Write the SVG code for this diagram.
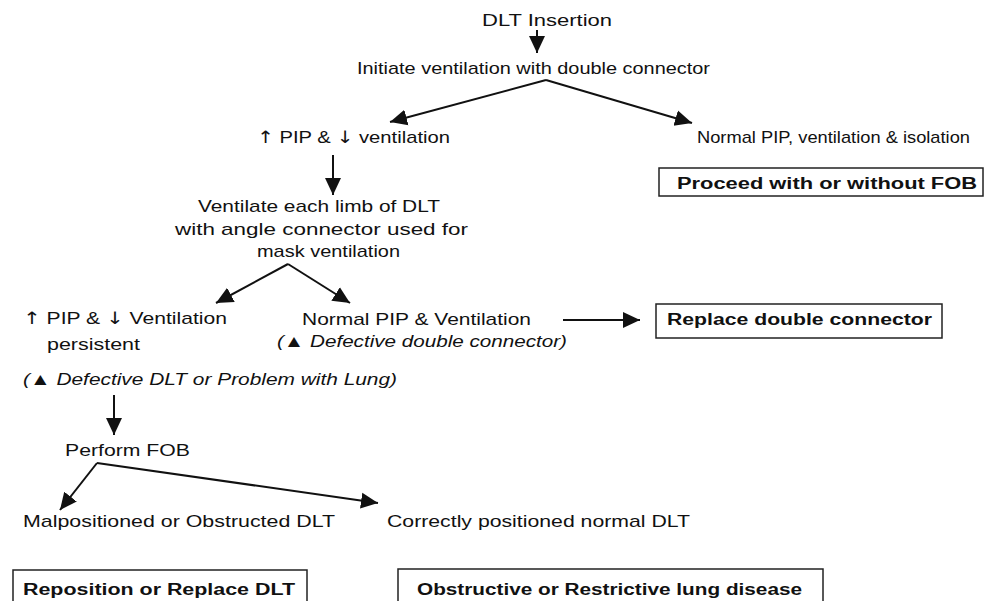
<svg xmlns="http://www.w3.org/2000/svg" width="989" height="601" viewBox="0 0 989 601">
<style>
.t{font-family:"Liberation Sans",Arial,sans-serif;font-size:17px;fill:#111}
.i{font-style:italic}
.ar{font-family:"DejaVu Sans",sans-serif;font-style:normal}
.b{font-family:"Liberation Sans",Arial,sans-serif;font-size:16px;font-weight:bold;fill:#111}
.box{fill:#fff;stroke:#222;stroke-width:1.5}
.c{stroke:#111;stroke-width:2;fill:none;marker-end:url(#ah)}
</style>
<defs>
<marker id="ah" markerUnits="userSpaceOnUse" markerWidth="18" markerHeight="18" refX="17" refY="9" orient="auto" viewBox="0 0 18 18">
<path d="M0,1 L17,9 L0,17 z" fill="#111"/>
</marker>
</defs>
<rect width="989" height="601" fill="#fff"/>
<g id="connectors">
<line class="c" x1="537" y1="30" x2="537" y2="53"/>
<line class="c" x1="546" y1="80" x2="390" y2="122"/>
<line class="c" x1="546" y1="80" x2="692" y2="123"/>
<line class="c" x1="333" y1="155" x2="333" y2="195"/>
<line class="c" x1="288" y1="264" x2="216" y2="303"/>
<line class="c" x1="288" y1="264" x2="350" y2="303"/>
<line class="c" x1="563" y1="320" x2="640" y2="320"/>
<line class="c" x1="114" y1="395" x2="114" y2="435"/>
<line class="c" x1="97" y1="463" x2="60" y2="510"/>
<line class="c" x1="97" y1="463" x2="378" y2="503"/>
</g>
<g id="n-dlt-insertion"><text class="t" x="482" y="26" textLength="130" lengthAdjust="spacingAndGlyphs">DLT Insertion</text></g>
<g id="n-initiate"><text class="t" x="357" y="74" textLength="353" lengthAdjust="spacingAndGlyphs">Initiate ventilation with double connector</text></g>
<g id="n-pip-up"><text class="t" x="257" y="143" textLength="193" lengthAdjust="spacingAndGlyphs"><tspan class="ar">↑</tspan> PIP &amp; <tspan class="ar">↓</tspan> ventilation</text></g>
<g id="n-normal"><text class="t" x="697" y="143" textLength="273" lengthAdjust="spacingAndGlyphs">Normal PIP, ventilation &amp; isolation</text></g>
<g id="n-proceed">
<rect class="box" x="659" y="168" width="324" height="28"/>
<text class="b" x="677" y="189" textLength="300" lengthAdjust="spacingAndGlyphs">Proceed with or without FOB</text>
</g>
<g id="n-ventilate">
<text class="t" x="198" y="212" textLength="242" lengthAdjust="spacingAndGlyphs">Ventilate each limb of DLT</text>
<text class="t" x="175" y="235" textLength="293" lengthAdjust="spacingAndGlyphs">with angle connector used for</text>
<text class="t" x="257" y="257" textLength="143" lengthAdjust="spacingAndGlyphs">mask ventilation</text>
</g>
<g id="n-persistent">
<text class="t" x="23" y="324" textLength="204" lengthAdjust="spacingAndGlyphs"><tspan class="ar">↑</tspan> PIP &amp; <tspan class="ar">↓</tspan>  Ventilation</text>
<text class="t" x="47" y="350" textLength="93" lengthAdjust="spacingAndGlyphs">persistent</text>
<text class="t i" x="23" y="385" textLength="374" lengthAdjust="spacingAndGlyphs">(▲ Defective DLT or Problem with Lung)</text>
</g>
<g id="n-normal-vent">
<text class="t" x="302" y="325" textLength="229" lengthAdjust="spacingAndGlyphs">Normal PIP &amp; Ventilation</text>
<text class="t i" x="277" y="347" textLength="290" lengthAdjust="spacingAndGlyphs">(▲ Defective double connector)</text>
</g>
<g id="n-replace-connector">
<rect class="box" x="656" y="304" width="286" height="34"/>
<text class="b" x="667" y="325" textLength="265" lengthAdjust="spacingAndGlyphs">Replace double connector</text>
</g>
<g id="n-fob"><text class="t" x="65" y="456" textLength="125" lengthAdjust="spacingAndGlyphs">Perform FOB</text></g>
<g id="n-malpositioned"><text class="t" x="23" y="527" textLength="312" lengthAdjust="spacingAndGlyphs">Malpositioned or Obstructed DLT</text></g>
<g id="n-correct"><text class="t" x="387" y="527" textLength="303" lengthAdjust="spacingAndGlyphs">Correctly positioned normal DLT</text></g>
<g id="n-reposition">
<rect class="box" x="13" y="570" width="294" height="45"/>
<text class="b" x="23" y="595" textLength="272" lengthAdjust="spacingAndGlyphs">Reposition or Replace DLT</text>
</g>
<g id="n-lung-disease">
<rect class="box" x="398" y="569" width="425" height="45"/>
<text class="b" x="417" y="595" textLength="385" lengthAdjust="spacingAndGlyphs">Obstructive or Restrictive lung disease</text>
</g>
</svg>
